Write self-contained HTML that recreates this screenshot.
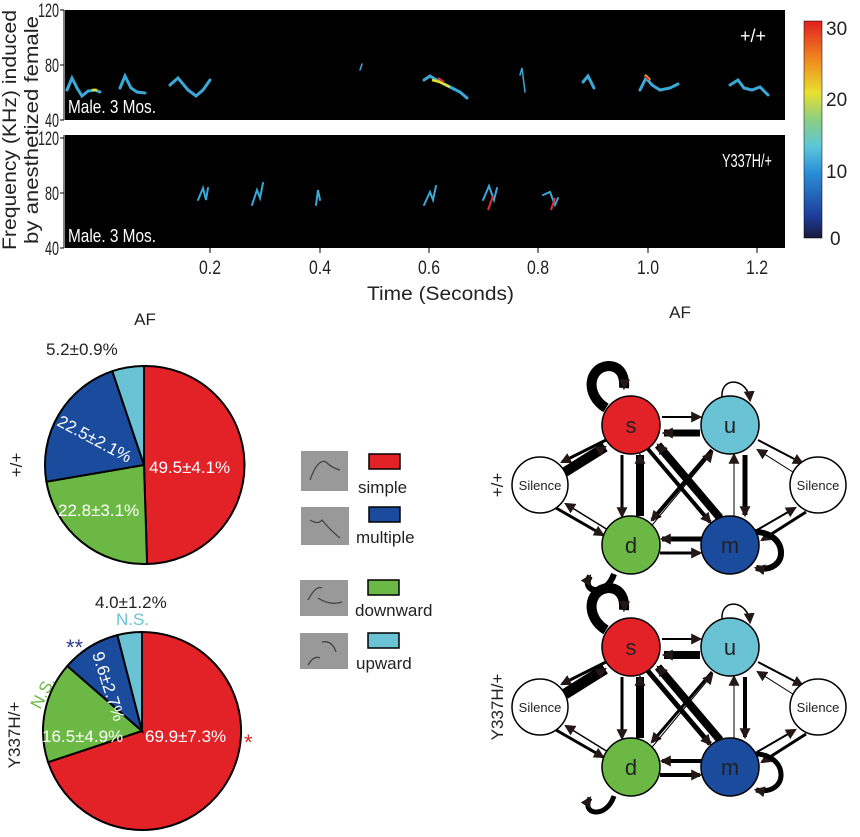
<!DOCTYPE html><html><head><style>body{margin:0;background:#fff}svg{display:block;font-family:"Liberation Sans",sans-serif}</style></head><body>
<svg width="860" height="837" viewBox="0 0 860 837" xmlns="http://www.w3.org/2000/svg">
<defs>
<linearGradient id="jet" x1="0" y1="1" x2="0" y2="0">
<stop offset="0" stop-color="#1a1a3a"/><stop offset="0.1" stop-color="#1d3d9a"/><stop offset="0.3" stop-color="#2a8fd8"/><stop offset="0.42" stop-color="#5cc6d8"/><stop offset="0.55" stop-color="#8fcf80"/><stop offset="0.67" stop-color="#e8e030"/><stop offset="0.82" stop-color="#f08a20"/><stop offset="1" stop-color="#e02020"/></linearGradient>
<marker id="ah" viewBox="0 0 10 10" refX="8" refY="5" markerWidth="11" markerHeight="11" markerUnits="userSpaceOnUse" orient="auto"><path d="M0,0L10,5L0,10z" fill="#231815"/></marker>
</defs>
<rect x="65" y="10" width="720" height="110" fill="#000"/>
<rect x="65" y="135" width="720" height="113" fill="#000"/>
<g fill="none" stroke="#3aa9d8" stroke-width="3" stroke-linecap="round">
<polyline points="67,90 72,78 77,88 82,96 88,91 95,90 100,92"/>
<polyline points="120,88 125,76 131,88 137,92 145,93"/>
<polyline points="170,85 178,78 188,90 196,96 203,90 210,80"/>
<polyline points="424,80 430,76 440,82 450,87 460,92 467,98"/>
<polyline points="583,82 588,76 594,88"/>
<polyline points="640,90 646,78 652,85 660,90 670,88 678,84"/>
<polyline points="730,85 738,80 744,88 752,90 760,87 768,95"/>
<polyline points="360,70 362,64" stroke-width="1.5"/>
<polyline points="520,75 522,68 525,92" stroke-width="1.5"/>
<polyline points="198,200 203,188 206,200 208,188" stroke-width="2"/>
<polyline points="252,205 257,190 260,198 263,183" stroke-width="2"/>
<polyline points="316,205 318,190 320,200" stroke-width="2"/>
<polyline points="424,205 430,192 433,200 436,186" stroke-width="2"/>
<polyline points="483,200 489,186 494,200 497,188" stroke-width="2"/>
<polyline points="543,195 550,192 555,205 558,198" stroke-width="2"/>
</g>
<g stroke="#e0e030" stroke-width="2.5" fill="none"><polyline points="432,80 440,82 450,87"/><polyline points="92,90 97,90"/><polyline points="645,75 650,80"/></g>
<g stroke="#e03030" stroke-width="2" fill="none"><polyline points="438,78 444,82"/><polyline points="645,76 649,80"/><polyline points="488,210 493,196"/><polyline points="551,210 555,198"/></g>
<g font-size="18" fill="#fff"><text x="68" y="113" textLength="88" lengthAdjust="spacingAndGlyphs">Male. 3 Mos.</text><text x="68" y="242" textLength="88" lengthAdjust="spacingAndGlyphs">Male. 3 Mos.</text><text x="740" y="42">+/+</text><text x="722" y="167" textLength="50" lengthAdjust="spacingAndGlyphs">Y337H/+</text></g>
<g stroke="#000" stroke-width="1"><line x1="64" y1="10" x2="64" y2="120"/><line x1="64" y1="135" x2="64" y2="248"/>
<line x1="60" y1="10" x2="64" y2="10"/><line x1="60" y1="65" x2="64" y2="65"/><line x1="60" y1="120" x2="64" y2="120"/>
<line x1="60" y1="138" x2="64" y2="138"/><line x1="60" y1="193" x2="64" y2="193"/><line x1="60" y1="248" x2="64" y2="248"/>
<line x1="210" y1="248" x2="210" y2="253"/><line x1="320" y1="248" x2="320" y2="253"/><line x1="429" y1="248" x2="429" y2="253"/><line x1="538" y1="248" x2="538" y2="253"/><line x1="648" y1="248" x2="648" y2="253"/><line x1="757" y1="248" x2="757" y2="253"/></g>
<g font-size="19" fill="#222"><text x="38" y="17" textLength="21" lengthAdjust="spacingAndGlyphs">120</text><text x="45" y="72" textLength="14" lengthAdjust="spacingAndGlyphs">80</text><text x="45" y="127" textLength="14" lengthAdjust="spacingAndGlyphs">40</text><text x="38" y="145" textLength="21" lengthAdjust="spacingAndGlyphs">120</text><text x="45" y="200" textLength="14" lengthAdjust="spacingAndGlyphs">80</text><text x="45" y="255" textLength="14" lengthAdjust="spacingAndGlyphs">40</text></g>
<g font-size="19" fill="#222"><text x="199" y="274" textLength="22" lengthAdjust="spacingAndGlyphs">0.2</text><text x="309" y="274" textLength="22" lengthAdjust="spacingAndGlyphs">0.4</text><text x="418" y="274" textLength="22" lengthAdjust="spacingAndGlyphs">0.6</text><text x="527" y="274" textLength="22" lengthAdjust="spacingAndGlyphs">0.8</text><text x="637" y="274" textLength="22" lengthAdjust="spacingAndGlyphs">1.0</text><text x="746" y="274" textLength="22" lengthAdjust="spacingAndGlyphs">1.2</text><text x="367" y="300" textLength="147" lengthAdjust="spacingAndGlyphs">Time (Seconds)</text></g>
<g font-size="19" fill="#222"><text transform="translate(16,250) rotate(-90)" textLength="240" lengthAdjust="spacingAndGlyphs">Frequency (KHz) induced</text><text transform="translate(38,244) rotate(-90)" textLength="228" lengthAdjust="spacingAndGlyphs">by anesthetized female</text></g>
<rect x="804" y="21" width="18" height="217" fill="url(#jet)" stroke="#000" stroke-width="0.5"/>
<g font-size="19" fill="#222"><text x="826" y="35">30</text><text x="826" y="106">20</text><text x="826" y="178">10</text><text x="830" y="245">0</text></g>
<text x="145" y="325" font-size="17" text-anchor="middle" fill="#222">AF</text>
<text x="680" y="318" font-size="17" text-anchor="middle" fill="#222">AF</text>
<g stroke="#000" stroke-width="2">
<path d="M144,465 L144,366 A99,99 0 0 1 147.1,564 Z" fill="#e32228"/>
<path d="M144,465 L147.1,564 A99,99 0 0 1 46.4,481.7 Z" fill="#6bb944"/>
<path d="M144,465 L46.4,481.7 A99,99 0 0 1 112.3,371.2 Z" fill="#1a4b9d"/>
<path d="M144,465 L112.3,371.2 A99,99 0 0 1 144,366 Z" fill="#6ac3d4"/>
<path d="M142,731 L142,632 A99,99 0 1 1 48.1,762.2 Z" fill="#e32228"/>
<path d="M142,731 L48.1,762.2 A99,99 0 0 1 67.3,666 Z" fill="#6bb944"/>
<path d="M142,731 L67.3,666 A99,99 0 0 1 117.4,635.1 Z" fill="#1a4b9d"/>
<path d="M142,731 L117.4,635.1 A99,99 0 0 1 142,632 Z" fill="#6ac3d4"/>
</g>
<g font-size="17" fill="#fff"><text x="149" y="473">49.5±4.1%</text><text x="58" y="516">22.8±3.1%</text><text transform="translate(56,425) rotate(28)">22.5±2.1%</text>
<text x="145" y="742">69.9±7.3%</text><text x="42" y="742">16.5±4.9%</text><text transform="translate(92,654) rotate(72)">9.6±2.7%</text></g>
<g font-size="17" fill="#222"><text x="46" y="355">5.2±0.9%</text><text x="95" y="608">4.0±1.2%</text></g>
<text x="116" y="625" font-size="17" fill="#6ac3d4">N.S.</text>
<text transform="translate(40,710) rotate(-62)" font-size="17" fill="#6bb944">N.S.</text>
<text x="66" y="655" font-size="22" fill="#2a3a8f">**</text>
<text x="244" y="750" font-size="22" fill="#e32228">*</text>
<g font-size="17" fill="#222"><text transform="translate(22,465) rotate(-90)" text-anchor="middle">+/+</text><text transform="translate(20,735) rotate(-90)" text-anchor="middle">Y337H/+</text>
<text transform="translate(503,485) rotate(-90)" text-anchor="middle">+/+</text><text transform="translate(503,707) rotate(-90)" text-anchor="middle">Y337H/+</text></g>
<g fill="#999"><rect x="301" y="451" width="47" height="40"/><rect x="301" y="507" width="48" height="38"/><rect x="300" y="580" width="48" height="36"/><rect x="300" y="633" width="48" height="36"/></g>
<g stroke="#444" fill="none" stroke-width="1.3"><path d="M310,480 Q318,458 326,462 Q332,468 340,470"/><path d="M310,520 Q318,525 322,520 Q330,530 340,538"/><path d="M308,600 Q316,585 322,588 M318,598 Q330,606 342,602"/><path d="M322,642 Q332,640 336,652 M308,665 Q314,655 320,658"/></g>
<g stroke="#000" stroke-width="1.5"><rect x="369" y="454" width="31" height="15" fill="#e32228"/><rect x="369" y="507" width="31" height="15" fill="#1a4b9d"/><rect x="368" y="580" width="31" height="15" fill="#6bb944"/><rect x="368" y="633" width="31" height="15" fill="#6ac3d4"/></g>
<g font-size="17" fill="#222"><text x="358" y="493">simple</text><text x="356" y="543">multiple</text><text x="355" y="616">downward</text><text x="356" y="669">upward</text></g>
<g>
<g stroke="#000" stroke-linecap="butt" fill="none" marker-end="url(#ah)">
<line x1="662" y1="417" x2="700" y2="417" stroke-width="2"/>
<line x1="700" y1="433" x2="664" y2="433" stroke-width="7"/>
<path d="M606,408 C585,395 588,368 608,366 C620,366 625,375 624,388" stroke-width="10"/>
<path d="M722,398 C720,375 748,378 750,400" stroke-width="1.5"/>
<line x1="606" y1="440" x2="562" y2="462" stroke-width="3"/>
<line x1="565" y1="472" x2="605" y2="447" stroke-width="10"/>
<line x1="556" y1="508" x2="603" y2="535" stroke-width="3"/>
<line x1="608" y1="530" x2="566" y2="504" stroke-width="1.5"/>
<line x1="622" y1="455" x2="622" y2="516" stroke-width="3"/>
<line x1="640" y1="516" x2="640" y2="455" stroke-width="8"/>
<line x1="648" y1="449" x2="710" y2="522" stroke-width="4"/>
<line x1="720" y1="518" x2="658" y2="445" stroke-width="8"/>
<line x1="712" y1="450" x2="652" y2="520" stroke-width="4"/>
<line x1="648" y1="530" x2="712" y2="453" stroke-width="1"/>
<line x1="745" y1="455" x2="745" y2="515" stroke-width="5"/>
<line x1="734" y1="517" x2="734" y2="455" stroke-width="1"/>
<line x1="758" y1="440" x2="802" y2="463" stroke-width="2"/>
<line x1="796" y1="474" x2="758" y2="450" stroke-width="1"/>
<line x1="757" y1="530" x2="795" y2="508" stroke-width="2"/>
<line x1="806" y1="512" x2="762" y2="540" stroke-width="3"/>
<line x1="702" y1="539" x2="662" y2="539" stroke-width="5"/>
<line x1="660" y1="553" x2="700" y2="553" stroke-width="3"/>
<path d="M614,574 C606,598 580,592 590,576" stroke-width="6"/>
<path d="M752,532 C790,530 790,575 756,568" stroke-width="6"/>
</g>
<g stroke="#000" stroke-width="1.5"><circle cx="631" cy="425" r="29" fill="#e32228"/><circle cx="730" cy="425" r="29" fill="#6ac3d4"/><circle cx="631" cy="545" r="29" fill="#6bb944"/><circle cx="730" cy="545" r="29" fill="#1a4b9d"/><circle cx="540" cy="485" r="28" fill="#fff"/><circle cx="818" cy="485" r="28" fill="#fff"/></g>
<g font-size="22" fill="#222" text-anchor="middle"><text x="631" y="433">s</text><text x="730" y="433">u</text><text x="631" y="553">d</text><text x="730" y="553">m</text></g>
<g font-size="13" fill="#222" text-anchor="middle"><text x="540" y="490">Silence</text><text x="818" y="490">Silence</text></g>
</g>
<g transform="translate(0,222)">
<g stroke="#000" stroke-linecap="butt" fill="none" marker-end="url(#ah)">
<line x1="662" y1="417" x2="700" y2="417" stroke-width="2"/>
<line x1="700" y1="433" x2="664" y2="433" stroke-width="8"/>
<path d="M606,408 C585,395 588,368 608,366 C620,366 625,375 624,388" stroke-width="10"/>
<path d="M722,398 C720,375 748,378 750,400" stroke-width="1.5"/>
<line x1="606" y1="440" x2="562" y2="462" stroke-width="3"/>
<line x1="565" y1="472" x2="605" y2="447" stroke-width="11"/>
<line x1="556" y1="508" x2="603" y2="535" stroke-width="3"/>
<line x1="608" y1="530" x2="566" y2="504" stroke-width="1.5"/>
<line x1="622" y1="455" x2="622" y2="516" stroke-width="3"/>
<line x1="640" y1="516" x2="640" y2="455" stroke-width="8"/>
<line x1="648" y1="449" x2="710" y2="522" stroke-width="5"/>
<line x1="720" y1="518" x2="658" y2="445" stroke-width="8"/>
<line x1="712" y1="450" x2="652" y2="520" stroke-width="3"/>
<line x1="648" y1="530" x2="712" y2="453" stroke-width="1"/>
<line x1="745" y1="455" x2="745" y2="515" stroke-width="4"/>
<line x1="734" y1="517" x2="734" y2="455" stroke-width="1"/>
<line x1="758" y1="440" x2="802" y2="463" stroke-width="2"/>
<line x1="796" y1="474" x2="758" y2="450" stroke-width="1"/>
<line x1="757" y1="530" x2="795" y2="508" stroke-width="2"/>
<line x1="806" y1="512" x2="762" y2="540" stroke-width="3"/>
<line x1="702" y1="539" x2="662" y2="539" stroke-width="4"/>
<line x1="660" y1="553" x2="700" y2="553" stroke-width="4"/>
<path d="M614,574 C606,598 580,592 590,576" stroke-width="5"/>
<path d="M752,532 C790,530 790,575 756,568" stroke-width="5"/>
</g>
<g stroke="#000" stroke-width="1.5"><circle cx="631" cy="425" r="29" fill="#e32228"/><circle cx="730" cy="425" r="29" fill="#6ac3d4"/><circle cx="631" cy="545" r="29" fill="#6bb944"/><circle cx="730" cy="545" r="29" fill="#1a4b9d"/><circle cx="540" cy="485" r="28" fill="#fff"/><circle cx="818" cy="485" r="28" fill="#fff"/></g>
<g font-size="22" fill="#222" text-anchor="middle"><text x="631" y="433">s</text><text x="730" y="433">u</text><text x="631" y="553">d</text><text x="730" y="553">m</text></g>
<g font-size="13" fill="#222" text-anchor="middle"><text x="540" y="490">Silence</text><text x="818" y="490">Silence</text></g>
</g>
</svg>
</body></html>
